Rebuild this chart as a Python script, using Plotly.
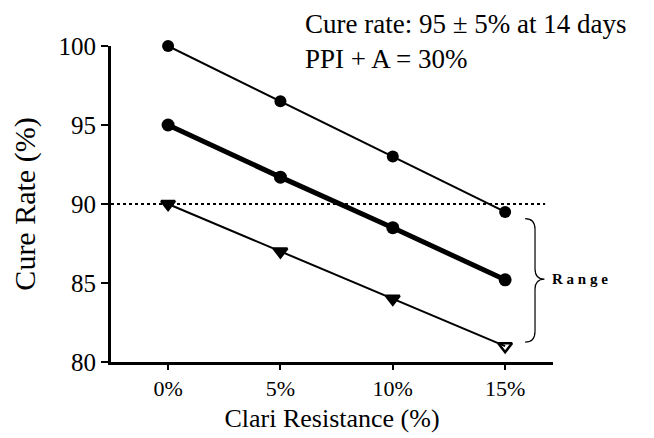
import plotly.graph_objects as go

x_vals = [0, 5, 10, 15]
x_labels = ["0%", "5%", "10%", "15%"]
upper = [100, 96.5, 93.0, 89.5]
middle = [95, 91.7, 88.5, 85.2]
lower = [90, 87.0, 84.0, 81.0]
lower_symbols = ["triangle-down", "triangle-down", "triangle-down", "triangle-down-open"]
ref_level = 90
y_ticks = [80, 85, 90, 95, 100]
note_lines = ["Cure rate: 95 ± 5% at 14 days", "PPI + A = 30%"]

FONT = "Liberation Serif, Times New Roman, serif"
L, R, T, B = 103, 109, 38, 84
W, H = 654, 438
PW, PH = W - L - R, H - T - B

fig = go.Figure()
fig.add_trace(go.Scatter(x=x_vals, y=upper, mode="lines+markers",
                         line=dict(color="black", width=2),
                         marker=dict(symbol="circle", size=12, color="black"),
                         cliponaxis=False, showlegend=False))
fig.add_trace(go.Scatter(x=x_vals, y=middle, mode="lines+markers",
                         line=dict(color="black", width=5),
                         marker=dict(symbol="circle", size=13, color="black"),
                         cliponaxis=False, showlegend=False))
fig.add_trace(go.Scatter(x=x_vals, y=lower, mode="lines+markers",
                         line=dict(color="black", width=2),
                         marker=dict(symbol=lower_symbols, size=12, color="black",
                                     line=dict(color="black", width=2.5)),
                         cliponaxis=False, showlegend=False))

fig.add_shape(type="line", xref="x", yref="y", x0=-2.54, x1=16.78, y0=ref_level, y1=ref_level,
              line=dict(color="black", width=2, dash="dot"))

brace = ("M 15.89,89.08 Q 16.33,89.08 16.33,88.4 L 16.33,85.9 Q 16.33,85.24 16.75,85.24 "
         "Q 16.33,85.24 16.33,84.6 L 16.33,81.95 Q 16.33,81.26 15.89,81.26")
fig.add_shape(type="path", xref="x", yref="y", path=brace, line=dict(color="black", width=1.2))

annotations = [
    dict(x=17.0, y=85.24, xref="x", yref="y", text="<b>R a n g e</b>", showarrow=False,
         xanchor="left", yanchor="middle", font=dict(family=FONT, size=15, color="black")),
    dict(xref="paper", yref="paper", x=(296 - L) / PW, y=1 + (T - 0) / PH,
         text="<br>".join(note_lines), showarrow=False, xanchor="left", yanchor="top",
         align="left", borderpad=0,
         font=dict(family=FONT, size=27, color="black")),
]

fig.update_layout(
    width=W, height=H,
    margin=dict(l=L, r=R, t=T, b=B, autoexpand=False),
    paper_bgcolor="white", plot_bgcolor="white",
    font=dict(family=FONT, color="black"),
    annotations=annotations,
)
fig.update_xaxes(range=[-2.54, 17.13], tickvals=x_vals, ticktext=x_labels, automargin=False,
                 showgrid=False, zeroline=False, showline=True, linecolor="black", linewidth=3,
                 ticks="outside", ticklen=5, tickwidth=2, tickcolor="black",
                 tickfont=dict(family=FONT, size=22),
                 title=dict(text="Clari Resistance (%)", font=dict(family=FONT, size=26), standoff=9))
fig.update_yaxes(range=[80, 100], tickvals=y_ticks, automargin=False,
                 showgrid=False, zeroline=False, showline=True, linecolor="black", linewidth=3,
                 ticks="outside", ticklen=7, tickwidth=2, tickcolor="black",
                 tickfont=dict(family=FONT, size=25),
                 title=dict(text="Cure Rate (%)", font=dict(family=FONT, size=30), standoff=26))

fig.write_html("out.html")
